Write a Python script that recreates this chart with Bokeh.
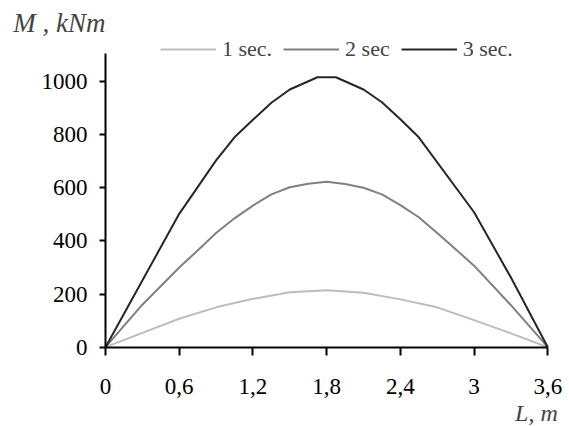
from bokeh.plotting import figure
from bokeh.models import Range1d, FixedTicker, Legend, LegendItem, Label
from bokeh.embed import file_html
from bokeh.resources import INLINE

# ---- data ----
x_ticks = [0, 0.6, 1.2, 1.8, 2.4, 3.0, 3.6]
x_tick_labels = ["0", "0,6", "1,2", "1,8", "2,4", "3", "3,6"]
y_ticks = [0, 200, 400, 600, 800, 1000]

series_names = ["1 sec.", "2 sec", "3 sec."]

L_1s = [0, 0.3, 0.6, 0.9, 1.2, 1.5, 1.8, 2.1, 2.4, 2.7, 3.0, 3.3, 3.6]
M_1s = [0, 54, 107, 150, 182, 207, 214, 205, 180, 150, 102, 52, 0]

L_2s = [0, 0.3, 0.6, 0.75, 0.9, 1.05, 1.2, 1.35, 1.5, 1.65, 1.8, 1.95, 2.1,
        2.25, 2.4, 2.55, 2.7, 3.0, 3.3, 3.6]
M_2s = [0, 160, 300, 364, 430, 485, 533, 575, 602, 615, 623, 614, 600,
        575, 535, 489, 430, 307, 158, 0]

L_3s = [0, 0.3, 0.6, 0.9, 1.05, 1.2, 1.35, 1.5, 1.725, 1.875, 2.1, 2.25, 2.4,
        2.55, 3.0, 3.3, 3.6]
M_3s = [0, 251, 502, 703, 790, 856, 920, 970, 1016, 1016, 970, 922, 858,
        790, 508, 262, 0]

colors = ["#bdbdbd", "#808080", "#262626"]

FONT = "Liberation Serif"

W, H = 569, 426
# plot area spans the whole canvas; axes are pinned at L=0 and M=0
p = figure(width=W, height=H, output_backend="svg", toolbar_location=None,
           x_range=Range1d(-0.8546, 3.7766), y_range=Range1d(-298.5, 1304.9),
           min_border=0)
p.outline_line_color = None
p.xgrid.visible = False
p.ygrid.visible = False
p.background_fill_color = "white"
p.border_fill_color = "white"

r1 = p.line(L_1s, M_1s, line_color=colors[0], line_width=2)
r2 = p.line(L_2s, M_2s, line_color=colors[1], line_width=2)
r3 = p.line(L_3s, M_3s, line_color=colors[2], line_width=2)

for ax in (p.xaxis[0], p.yaxis[0]):
    ax.fixed_location = 0
    ax.axis_line_width = 2
    ax.axis_line_color = "black"
    ax.major_tick_line_width = 2
    ax.major_tick_line_color = "black"
    ax.minor_tick_line_color = None
    ax.major_tick_in = 0
    ax.major_label_text_font = FONT
    ax.major_label_text_font_size = "23px"
    ax.major_label_text_color = "black"

p.xaxis[0].bounds = (0, 3.6)
p.xaxis[0].ticker = FixedTicker(ticks=x_ticks)
p.xaxis[0].major_label_overrides = {t: s for t, s in zip(x_ticks, x_tick_labels)}
p.xaxis[0].major_tick_out = 8
p.xaxis[0].major_label_standoff = 24

p.yaxis[0].bounds = (0, 1104)
p.yaxis[0].ticker = FixedTicker(ticks=y_ticks)
p.yaxis[0].major_tick_out = 6
p.yaxis[0].major_label_standoff = 12

legend = Legend(items=[LegendItem(label=series_names[0], renderers=[r1]),
                       LegendItem(label=series_names[1], renderers=[r2]),
                       LegendItem(label=series_names[2], renderers=[r3])],
                orientation="horizontal", location=(160, 364),
                glyph_width=56, glyph_height=26, label_height=26,
                label_standoff=6, spacing=11,
                padding=0, margin=0, border_line_color=None,
                background_fill_alpha=0,
                label_text_font=FONT, label_text_font_size="22px")
p.add_layout(legend)

p.add_layout(Label(x=-0.751, y=1222, text="M , kNm", text_font=FONT,
                   text_font_style="italic", text_font_size="27px",
                   text_baseline="middle", text_align="left"))
p.add_layout(Label(x=3.681, y=-249, text="L, m", text_font=FONT,
                   text_font_style="italic", text_font_size="24px",
                   text_baseline="middle", text_align="right"))

open("out.html", "w").write(file_html(p, INLINE))
